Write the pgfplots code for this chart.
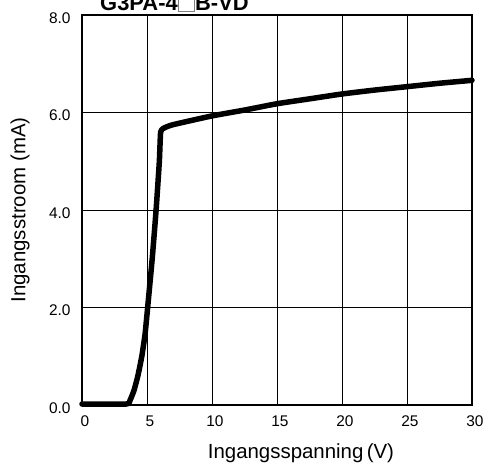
\documentclass[border=0pt]{standalone}
\usepackage{pgfplots}
\pgfplotsset{compat=1.18}
\usepackage{fontspec}
\setmainfont{Liberation Sans}
\begin{document}
\begin{tikzpicture}[x=1bp,y=1bp]
\begin{axis}[
  at={(0,0)}, anchor=south west,
  scale only axis, width=390bp, height=390bp,
  xmin=0, xmax=30, ymin=0, ymax=8,
  xtick={0,5,...,30}, ytick={0,2,...,8},
  grid=major,
  major grid style={black, line width=0.7bp},
  axis line style={black, line width=1.6bp},
  major tick length=0pt,
  tick label style={font=\fontsize{15.5}{18}\selectfont},
  /pgf/number format/assume math mode=true,
  yticklabel style={/pgf/number format/.cd, fixed, fixed zerofill, precision=1, /tikz/.cd, xshift=-8bp, yshift=-3bp},
  xticklabel style={xshift=3bp, yshift=-7bp},
  xlabel={Ingangsspanning\,(V)},
  ylabel={Ingangsstroom (mA)},
  label style={font=\fontsize{20.5}{24}\selectfont},
  xlabel style={at={(axis description cs:0.5615,-0.123)}, anchor=center},
  ylabel style={at={(axis description cs:-0.159,0.5)}, anchor=center, rotate=0},
  clip=false,
]
\addplot[black, line width=5.5bp, line join=round, line cap=round, smooth, tension=0.3] coordinates {
(0,0.02) (3.4,0.02) (3.7,0.1) (4.0,0.3) (4.3,0.6) (4.6,1.0) (4.85,1.45) (5.05,2.0) (5.4,3.0) (5.7,4.0) (5.95,5.0) (6.05,5.6) (6.3,5.68) (7,5.75) (10,5.93) (12.5,6.05) (15,6.18) (17.5,6.28) (20,6.38) (22.5,6.46) (25,6.53) (27.5,6.6) (30,6.66)
};
\end{axis}
\node[anchor=base west, font=\fontsize{22}{26}\selectfont\bfseries, inner sep=0pt] at (18bp,394bp)
  {G3PA-4{\color{gray}\setlength\fboxsep{0pt}\setlength\fboxrule{0.8bp}\fbox{\phantom{B}}}B-VD};
\pgfresetboundingbox
\path (-82bp,-61bp) rectangle (412bp,405bp);
\end{tikzpicture}
\end{document}
